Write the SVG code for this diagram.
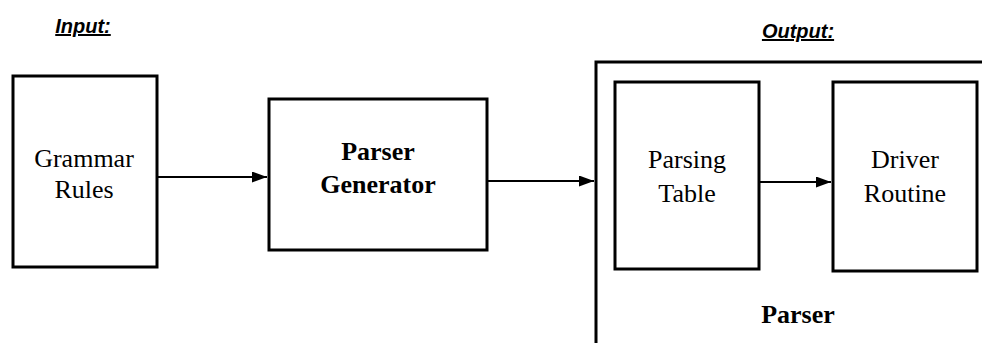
<svg xmlns="http://www.w3.org/2000/svg" width="982" height="343" viewBox="0 0 982 343">
  <defs>
    <style>
      .box { fill: #fff; stroke: #000; stroke-width: 3; }
      .frame { fill: none; stroke: #000; stroke-width: 3; }
      .edge { stroke: #000; stroke-width: 2.2; fill: none; }
      .lbl { font-family: "Liberation Serif", "Times New Roman", serif; font-size: 26px; fill: #000; text-anchor: middle; }
      .bold { font-weight: bold; }
      .head { font-family: "Liberation Sans", Arial, sans-serif; font-size: 20px; font-weight: bold; font-style: italic; text-decoration: underline; fill: #000; text-anchor: middle; }
    </style>
    <marker id="arrow" viewBox="0 0 15 11" refX="15" refY="5.5" markerWidth="15" markerHeight="11" markerUnits="userSpaceOnUse" orient="auto">
      <path d="M0,0 L15,5.5 L0,11 Z" fill="#000"/>
    </marker>
  </defs>
  <rect width="982" height="343" fill="#fff"/>

  <text class="head" x="83" y="33">Input:</text>
  <text class="head" x="798" y="38">Output:</text>

  <g id="grammar-rules">
    <rect class="box" x="13" y="76" width="144" height="191"/>
    <text class="lbl" x="84" y="167">Grammar</text>
    <text class="lbl" x="84" y="198">Rules</text>
  </g>

  <g id="parser-generator">
    <rect class="box" x="269" y="99" width="218" height="151"/>
    <text class="lbl bold" x="378" y="160">Parser</text>
    <text class="lbl bold" x="378" y="193">Generator</text>
  </g>

  <g id="parser">
    <path class="frame" d="M596,343 V62 H982"/>
    <text class="lbl bold" x="798" y="323">Parser</text>
  </g>

  <g id="parsing-table">
    <rect class="box" x="615" y="82" width="144" height="187"/>
    <text class="lbl" x="687" y="168">Parsing</text>
    <text class="lbl" x="687" y="202">Table</text>
  </g>

  <g id="driver-routine">
    <rect class="box" x="833" y="82" width="144" height="189"/>
    <text class="lbl" x="905" y="168">Driver</text>
    <text class="lbl" x="905" y="202">Routine</text>
  </g>

  <g id="connectors">
    <line class="edge" x1="158" y1="177" x2="267" y2="177" marker-end="url(#arrow)"/>
    <line class="edge" x1="488" y1="181" x2="594" y2="181" marker-end="url(#arrow)"/>
    <line class="edge" x1="760" y1="182" x2="831" y2="182" marker-end="url(#arrow)"/>
  </g>
</svg>
